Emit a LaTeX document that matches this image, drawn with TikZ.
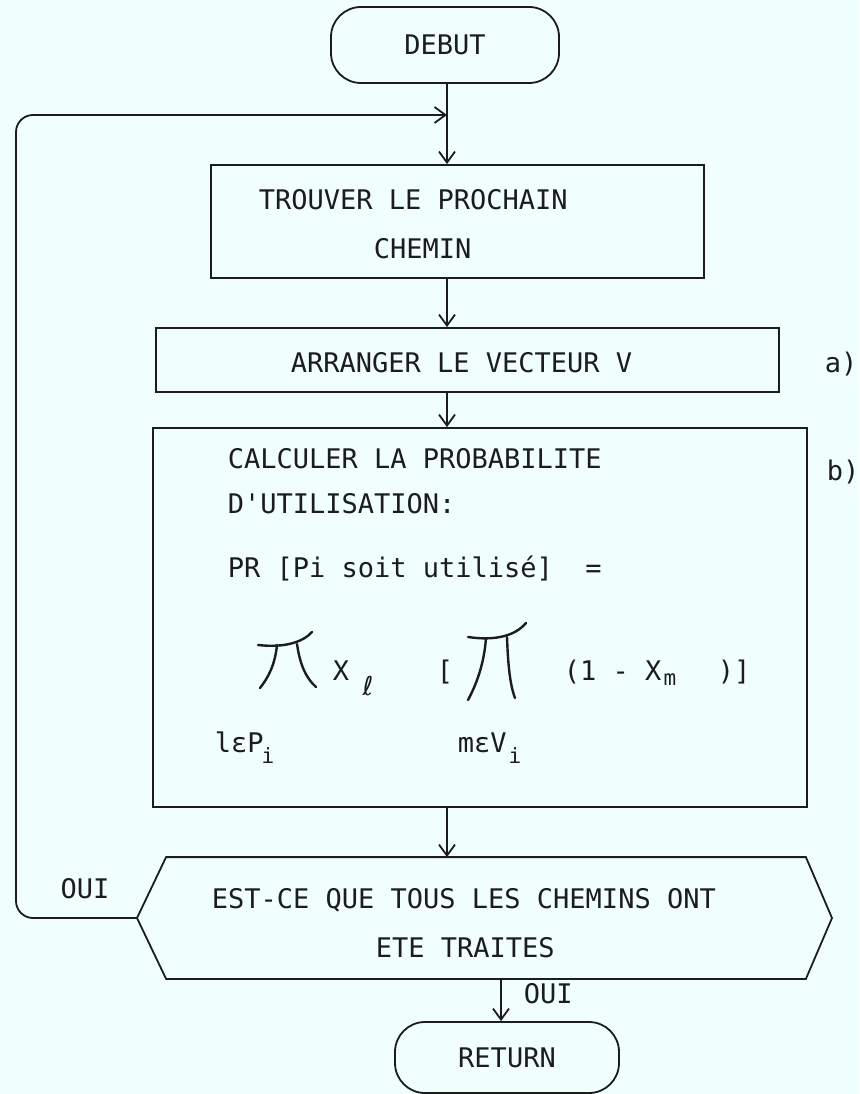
\documentclass[tikz,border=0pt]{standalone}
\usepackage{fontspec}
\setmonofont{DejaVu Sans Mono}
\newfontfamily\djv{DejaVu Sans}
\usetikzlibrary{arrows.meta,calc}
\definecolor{bgcol}{RGB}{240,254,254}
\definecolor{ink}{RGB}{28,28,28}
\tikzset{
  txt/.style={font=\ttfamily\fontsize{27}{30}\selectfont, inner sep=0pt, text height=20pt, text depth=0pt, anchor=west, text=ink},
  subtxt/.style={font=\ttfamily\fontsize{21}{23}\selectfont, inner sep=0pt, text height=15pt, text depth=0pt, text=ink},
  box/.style={draw=ink, rectangle, inner sep=0pt},
  term/.style={draw=ink, rectangle, rounded corners=30pt, inner sep=0pt,
    font=\ttfamily\fontsize{27}{30}\selectfont, text height=20pt, text depth=0pt, text=ink},
  arr/.style={-{Straight Barb[length=11pt,width=16pt]}},
  prod/.style={line width=2.4pt, line cap=round}
}
\begin{document}
\begin{tikzpicture}[x=1pt,y=-1pt,line width=1.8pt,color=ink]
\fill[bgcol] (0,0) rectangle (859,1094);
\useasboundingbox (0,0) rectangle (859,1094);

% terminals
\node[term, minimum width=228pt, minimum height=76pt] (debut) at (445,45) {DEBUT};
\node[term, minimum width=224pt, minimum height=71pt] (ret) at (507,1057.5) {RETURN};

% boxes
\node[box, minimum width=493pt, minimum height=113pt] (trouver) at (457.5,221.5) {};
\node[box, minimum width=623pt, minimum height=64pt] (arranger) at (467.5,360) {};
\node[box, minimum width=654pt, minimum height=379pt] (calc) at (480,617.5) {};

% hexagon decision
\node[inner sep=0pt, minimum width=638pt, minimum height=120pt] (hex) at (486,918) {};
\coordinate (hexL) at (137,918);
\coordinate (hexR) at (832,918);
\draw (hex.north west) -- (hex.north east) -- (hexR) -- (hex.south east) -- (hex.south west) -- (hexL) -- cycle;

% texts
\node[txt] (t1) at (258,199) {TROUVER LE PROCHAIN};
\node[txt] (t2) at (373,248) {CHEMIN};
\node[txt] (t3) at (290,362) {ARRANGER LE VECTEUR V};
\node[txt] (la) at (824,362) {a)};
\node[txt] (lb) at (826,470) {b)};
\node[txt] (c1) at (227,458) {CALCULER LA PROBABILITE};
\node[txt] (c2) at (227,503) {D'UTILISATION:};
\node[txt] (c3) at (227,567) {PR [Pi soit utilisé]\ \ =};

% formula
\draw[prod] (258,645) .. controls (285,648) and (303,642) .. (312,632);
\draw[prod] (277,645) .. controls (275,665) and (268,678) .. (260,688);
\draw[prod] (297,644) .. controls (300,665) and (306,678) .. (316,687);
\draw[prod] (468,637) .. controls (495,641) and (515,636) .. (526,623);
\draw[prod] (486,638) .. controls (484,665) and (476,685) .. (468,700);
\draw[prod] (507,637) .. controls (508,665) and (510,685) .. (515,698);
\node[txt, anchor=center] (fx) at (341,670) {X};
\node[subtxt, font=\djv\fontsize{26}{28}\selectfont] (fl) at (368,688) {ℓ};
\node[txt, anchor=center] (fb) at (445,670) {[};
\node[txt] (fm) at (563,670) {(1 - X};
\node[subtxt] (fms) at (670,678) {m};
\node[txt] (fe) at (717,670) {)]};
\node[txt] (p1) at (214,742) {lεP};
\node[subtxt] (p1s) at (268,756) {i};
\node[txt] (p2) at (457,742) {mεV};
\node[subtxt] (p2s) at (515,756) {i};

% hexagon texts
\node[txt] (h1) at (211,898) {EST-CE QUE TOUS LES CHEMINS ONT};
\node[txt] (h2) at (375,947) {ETE TRAITES};
\node[txt, anchor=center] (oui1) at (85,888) {OUI};
\node[txt] (oui2) at (523,993) {OUI};

% connectors
\coordinate (axis) at (447,0);
\coordinate (lc) at (16,115);
\coordinate (merge) at (447,115);
\draw[arr] (debut.south -| axis) -- (trouver.north -| axis);
\draw[arr, rounded corners=17pt] (hexL) -| (lc) -- (merge);
\draw[arr] (trouver.south -| axis) -- (arranger.north -| axis);
\draw[arr] (arranger.south -| axis) -- (calc.north -| axis);
\draw[arr] (calc.south -| axis) -- (hex.north -| axis);
\coordinate (retx) at (501,0);
\draw[arr] (hex.south -| retx) -- (ret.north -| retx);
\end{tikzpicture}
\end{document}
